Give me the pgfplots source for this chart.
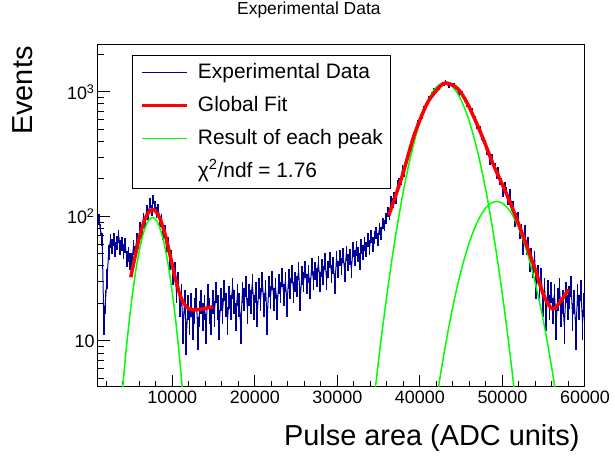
\documentclass[border=0pt]{standalone}
\usepackage{fontspec}
\setmainfont{Liberation Sans}
\usepackage{pgfplots}
\usepackage{pgfplotstable}
\pgfplotsset{compat=1.18}
\definecolor{navy}{RGB}{0,0,153}
\definecolor{fitred}{RGB}{255,0,0}
\definecolor{peakgreen}{RGB}{0,255,0}

\pgfplotstableread[row sep=\\]{
x y\\
1100 95\\ 1300 78\\ 1500 66\\ 1700 15\\ 1900 21\\ 2100 32\\ 2300 52\\ 2500 64\\ 2700 58\\ 2900 66\\
3100 55\\ 3300 62\\ 3500 70\\ 3700 57\\ 3900 61\\ 4100 53\\ 4300 59\\ 4500 46\\ 4700 50\\ 4900 44\\
5100 44\\ 5300 57\\ 5500 51\\ 5700 66\\ 5900 63\\ 6100 81\\ 6300 76\\ 6500 97\\ 6700 90\\ 6900 112\\
7100 104\\ 7300 128\\ 7500 112\\ 7700 138\\ 7900 121\\ 8100 108\\ 8300 115\\ 8500 92\\ 8700 95\\ 8900 73\\
9100 76\\ 9300 57\\ 9500 60\\ 9700 44\\ 9900 47\\ 10100 34\\ 10300 37\\ 10500 25\\ 10700 30\\ 10900 20\\
11100 24\\ 11300 13\\ 11500 21\\ 11700 11\\ 11900 19\\
12100 15\\ 12300 20\\ 12500 14\\ 12700 18\\ 12900 22\\ 13100 12\\ 13300 17\\ 13500 21\\ 13700 16\\ 13900 19\\
14100 13\\ 14300 24\\ 14500 18\\ 14700 15\\ 14900 21\\ 15100 17\\ 15300 25\\ 15500 19\\ 15700 14\\ 15900 22\\
16100 18\\ 16300 26\\ 16500 20\\ 16700 15\\ 16900 23\\ 17100 19\\ 17300 27\\ 17500 21\\ 17700 16\\ 17900 24\\
18100 20\\ 18300 13\\ 18500 25\\ 18700 22\\ 18900 28\\ 19100 18\\ 19300 24\\ 19500 21\\ 19700 29\\ 19900 19\\
20100 25\\ 20300 17\\ 20500 27\\ 20700 22\\ 20900 30\\ 21100 20\\ 21300 26\\ 21500 15\\ 21700 28\\ 21900 23\\
22100 31\\ 22300 22\\ 22500 27\\ 22700 19\\ 22900 29\\ 23100 25\\ 23300 33\\ 23500 24\\ 23700 30\\ 23900 20\\
24100 32\\ 24300 27\\ 24500 35\\ 24700 25\\ 24900 30\\ 25100 28\\ 25300 37\\ 25500 22\\ 25700 34\\ 25900 30\\
26100 38\\ 26300 29\\ 26500 35\\ 26700 27\\ 26900 40\\ 27100 31\\ 27300 37\\ 27500 33\\ 27700 42\\ 27900 30\\
28100 39\\ 28300 34\\ 28500 44\\ 28700 31\\ 28900 38\\ 29100 45\\ 29300 35\\ 29500 41\\ 29700 29\\ 29900 46\\
30100 38\\ 30300 47\\ 30500 40\\ 30700 49\\ 30900 36\\ 31100 51\\ 31300 43\\ 31500 48\\ 31700 38\\ 31900 55\\
32100 47\\ 32300 56\\ 32500 50\\ 32700 44\\ 32900 58\\ 33100 52\\ 33300 61\\ 33500 55\\ 33700 65\\ 33900 57\\
34100 70\\ 34300 60\\ 34500 68\\ 34700 74\\ 34900 66\\ 35100 80\\ 35300 73\\ 35500 88\\ 35700 85\\ 35900 97\\
36100 109\\ 36300 103\\ 36500 134\\ 36700 129\\ 36900 145\\ 37100 137\\ 37300 182\\ 37500 189\\ 37700 191\\ 37900 242\\
38100 221\\ 38300 270\\ 38500 310\\ 38700 327\\ 38900 345\\ 39100 428\\ 39300 454\\ 39500 470\\ 39700 567\\ 39900 575\\
40100 640\\ 40300 628\\ 40500 741\\ 40700 768\\ 40900 801\\ 41100 894\\ 41300 878\\ 41500 968\\ 41700 1047\\ 41900 1015\\
42100 1084\\ 42300 1060\\ 42500 1155\\ 42700 1155\\ 42900 1145\\ 43100 1214\\ 43300 1160\\ 43500 1107\\ 43700 1169\\ 43900 1125\\
44100 1151\\ 44300 1059\\ 44500 1063\\ 44700 961\\ 44900 994\\ 45100 986\\ 45300 888\\ 45500 866\\ 45700 789\\ 45900 805\\
46100 730\\ 46300 722\\ 46500 627\\ 46700 610\\ 46900 529\\ 47100 533\\ 47300 512\\ 47500 430\\ 47700 407\\ 47900 394\\
48100 328\\ 48300 331\\ 48500 274\\ 48700 300\\ 48900 255\\ 49100 252\\ 49300 213\\ 49500 236\\ 49700 192\\ 49900 190\\
50100 155\\ 50300 177\\ 50500 159\\ 50700 136\\ 50900 153\\ 51100 121\\ 51300 121\\ 51500 92\\ 51700 97\\ 51900 98\\
52100 74\\ 52300 78\\ 52500 57\\ 52700 76\\ 52900 57\\ 53100 60\\ 53300 42\\ 53500 49\\ 53700 38\\ 53900 46\\
54100 27\\ 54300 35\\ 54500 27\\ 54700 33\\ 54900 20\\ 55100 27\\ 55300 16\\ 55500 26\\ 55700 19\\ 55900 25\\
56100 18\\ 56300 24\\ 56500 14\\ 56700 22\\ 56900 27\\ 57100 17\\ 57300 21\\ 57500 13\\ 57700 25\\ 57900 19\\
58100 23\\ 58300 28\\ 58500 16\\ 58700 21\\ 58900 12\\ 59100 24\\ 59300 19\\ 59500 26\\ 59700 14\\ 59900 20\\
}\expdata

\begin{document}
\begin{tikzpicture}
\useasboundingbox (-98bp,-70bp) rectangle (517bp,387bp);
\begin{axis}[
  at={(0,0)}, anchor=south west,
  width=487bp, height=342bp, scale only axis,
  xmin=1000, xmax=60000,
  ymode=log, ymin=4.27, ymax=2380,
  axis line style={line width=1bp},
  tick align=inside, xtick pos=bottom, ytick pos=left,
  scaled x ticks=false,
  xtick={10000,20000,30000,40000,50000,60000},
  xticklabels={10000,20000,30000,40000,50000,60000},
  minor xtick={2000,4000,6000,8000,12000,14000,16000,18000,22000,24000,26000,28000,32000,34000,36000,38000,42000,44000,46000,48000,52000,54000,56000,58000},
  ytick={10,100,1000},
  yticklabels={10,10\textsuperscript{2},10\textsuperscript{3}},
  minor ytick={5,6,7,8,9,20,30,40,50,60,70,80,90,200,300,400,500,600,700,800,900,2000},
  major tick length=12bp, minor tick length=6bp,
  every tick/.style={line width=1bp, black},
  ticklabel style={font=\fontsize{18}{20}\selectfont},
  xlabel={Pulse area (ADC units)},
  xlabel style={font=\fontsize{29}{32}\selectfont, at={(axis description cs:0.996,-0.1696)}, anchor=base east},
  ylabel={Events},
  ylabel style={font=\fontsize{29}{32}\selectfont, at={(axis description cs:-0.1335,1.006)}, anchor=base east},
  title={Experimental Data},
  title style={font=\fontsize{17.5}{20}\selectfont, at={(axis description cs:0.433,1.0731)}, anchor=base},
  legend cell align=left,
  legend image code/.code={\draw[#1] (0bp,0bp) -- (45bp,0bp);},
  legend style={at={(axis description cs:0.0698,0.9708)}, anchor=north west,
    draw=black, line width=1bp, fill=white,
    font=\fontsize{21}{25}\selectfont,
    inner xsep=8bp, inner ysep=6.5bp, row sep=12bp,
    nodes={text height=16.5bp, text depth=4.5bp, inner sep=0pt},
    /tikz/every odd column/.append style={column sep=9bp}},
]
\addlegendimage{navy, line width=1.2bp}
\addlegendentry{Experimental Data}
\addlegendimage{fitred, line width=3.5bp}
\addlegendentry{Global Fit}
\addlegendimage{peakgreen, line width=1.5bp}
\addlegendentry{Result of each peak}
\addlegendimage{empty legend}
\addlegendentry{χ\textsuperscript{2}/ndf = 1.76}

% experimental data with Poisson error bars
\addplot[navy, line width=1bp, forget plot,
  error bars/.cd, y dir=both, y explicit, error mark=none,
  error bar style={line width=1.7bp, navy}]
  table[x=x, y=y, y error expr={sqrt(\thisrow{y})}] {\expdata};

% individual peaks
\addplot[peakgreen, line width=1.5bp, smooth, forget plot] coordinates {
(3800,3.0) (4000,4.3) (4400,8.3) (4800,14.8) (5200,24.4) (5600,37.3) (6000,52.9) (6400,69.3) (6800,84.0) (7200,94.3) (7600,98)
(8000,94.3) (8400,84.0) (8800,69.3) (9200,52.9) (9600,37.3) (10000,24.4) (10400,14.8) (10800,8.3) (11200,4.3) (11400,3.0)};
\addplot[peakgreen, line width=1.5bp, smooth, forget plot] coordinates {
(34000,1.81) (34500,3.65) (35000,7.06) (35500,13.1) (36000,23.4) (36500,40.2) (37000,66.3) (37500,105) (38000,160) (38500,234)
(39000,328) (39500,443) (40000,575) (40500,716) (41000,858) (41500,986) (42000,1090) (42500,1158) (43000,1181)
(43500,1158) (44000,1090) (44500,986) (45000,858) (45500,716) (46000,575) (46500,443) (47000,328) (47500,234) (48000,160)
(48500,105) (49000,66.3) (49500,40.2) (50000,23.4) (50500,13.1) (51000,7.06) (51500,3.65) (52000,1.81)};
\addplot[peakgreen, line width=1.5bp, smooth, forget plot] coordinates {
(41902,3.01) (42575,5.80) (43248,10.5) (43920,17.9) (44593,28.6) (45265,42.9) (45938,60.4) (46610,80.1) (47283,99.6) (47955,116.5)
(48628,127.9) (49300,132) (49973,127.9) (50645,116.5) (51318,99.6) (51990,80.1) (52663,60.4) (53335,42.9) (54008,28.6)
(54680,17.9) (55353,10.5) (56025,5.80) (56698,3.01)};

% global fit
\addplot[fitred, line width=3.5bp, smooth, forget plot] coordinates {
(4970,32.5) (5250,40.0) (5500,48.0) (5750,57.3) (6000,67.3) (6250,77.7) (6500,87.9) (6750,97.1) (7000,104.7) (7250,110.1)
(7500,113.0) (7750,112.8) (8000,109.7) (8250,104.0) (8500,96.2) (8750,87.0) (9000,77.0) (9250,66.8) (9500,57.1) (9750,48.3)
(10000,40.8) (10250,34.5) (10500,29.5) (10750,25.7) (11000,22.8) (11250,20.9) (11500,19.6) (11750,18.7) (12000,18.2)
(12500,17.8) (13000,17.8) (13500,18.0) (14000,18.3) (14500,18.6) (14950,18.9)};
\addplot[fitred, line width=3.5bp, smooth, forget plot] coordinates {
(36230,102) (37850,211) (39270,442) (40890,811) (42500,1117) (43230,1176) (44530,1071) (45740,811) (47360,470)
(48980,253) (50600,146) (52210,78.6) (53830,39.9) (55040,22.9) (56060,18.1) (57070,20.9) (58000,25.9)};
\end{axis}
\end{tikzpicture}
\end{document}
